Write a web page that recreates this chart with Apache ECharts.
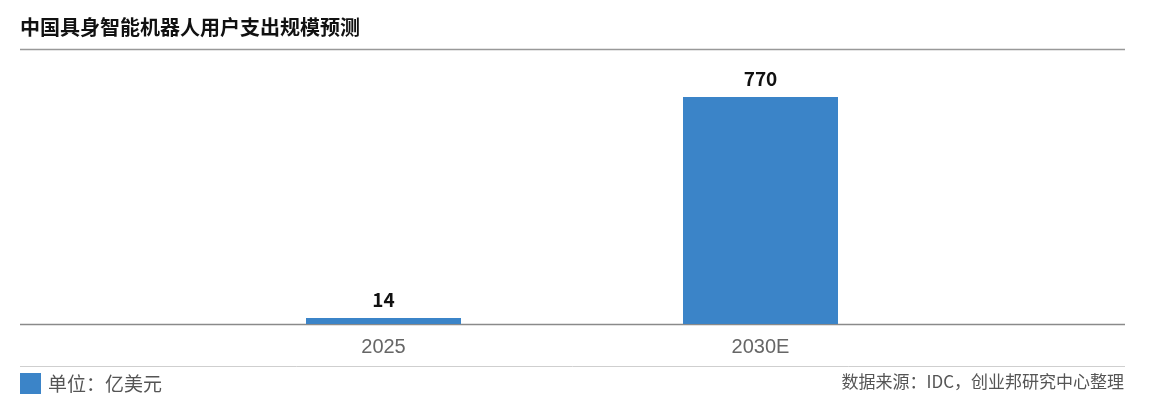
<!DOCTYPE html>
<html>
<head>
<meta charset="utf-8">
<script src="https://cdn.jsdelivr.net/npm/echarts@6/dist/echarts.min.js"></script>
<style>
  html, body { margin: 0; padding: 0; background: #fff; }
  #chart { width: 1152px; height: 406px; }
</style>
</head>
<body>
<div id="chart"></div>
<script>
const categories = ['2025', '2030E'];
const spending = [14, 770];
const seriesName = '单位：亿美元';

const font = '"Noto Sans CJK SC", "Noto Sans", sans-serif';
const myChart = echarts.init(document.getElementById('chart'));

const option = {
  backgroundColor: '#fff',
  animation: false,
  title: [
    {
      text: '中国具身智能机器人用户支出规模预测',
      left: 20,
      top: 17,
      padding: 0,
      textStyle: { fontFamily: font, fontSize: 20, fontWeight: 'bold', color: '#111' }
    },
    {
      text: '数据来源：IDC，创业邦研究中心整理',
      right: 28,
      top: 373,
      padding: 0,
      textStyle: { fontFamily: font, fontSize: 17, fontWeight: 'normal', color: '#555' }
    }
  ],
  legend: {
    left: 20,
    top: 373,
    padding: 0,
    itemWidth: 21,
    itemHeight: 21,
    itemGap: 10,
    icon: 'rect',
    textStyle: { fontFamily: font, fontSize: 19, color: '#555', padding: [0, 0, 0, 2] },
    data: [seriesName]
  },
  grid: {
    left: 195,
    right: 203,
    top: 97,
    bottom: 82
  },
  xAxis: {
    type: 'category',
    data: categories,
    axisLine: { show: false },
    axisTick: { show: false },
    axisLabel: {
      margin: 13,
      fontFamily: '"Liberation Sans", Roboto, sans-serif',
      fontSize: 20,
      color: '#666'
    }
  },
  yAxis: {
    type: 'value',
    show: false,
    min: 0,
    max: 770
  },
  series: [
    {
      name: seriesName,
      type: 'bar',
      data: spending,
      barWidth: 155,
      barMinHeight: 6,
      itemStyle: { color: '#3b84c8' },
      label: {
        show: true,
        position: 'top',
        distance: 9,
        fontFamily: font,
        fontSize: 19,
        fontWeight: 'bold',
        color: '#111'
      }
    }
  ],
  graphic: [
    // 标题下分隔线
    { type: 'line', shape: { x1: 20, y1: 49.5, x2: 1125, y2: 49.5 }, style: { stroke: '#999', lineWidth: 1.5 } },
    // 基线
    { type: 'line', shape: { x1: 20, y1: 324.5, x2: 1125, y2: 324.5 }, style: { stroke: '#8a8a8a', lineWidth: 1.5 } },
    // 底部分隔线
    { type: 'line', shape: { x1: 20, y1: 366.5, x2: 1125, y2: 366.5 }, style: { stroke: '#cfcfcf', lineWidth: 1 } }
  ]
};

myChart.setOption(option);
</script>
</body>
</html>
